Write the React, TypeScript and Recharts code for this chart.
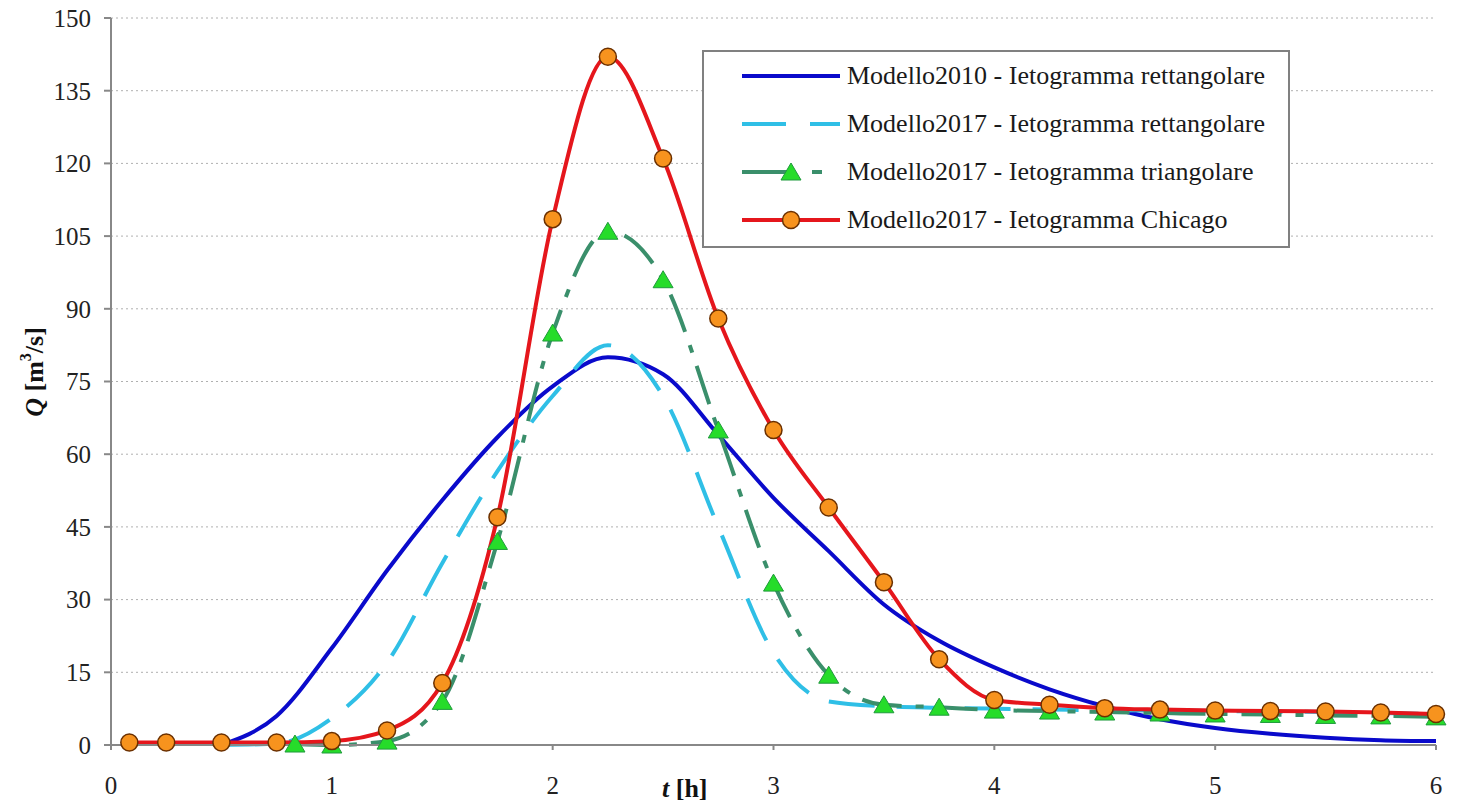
import React from "react";
import { LineChart, Line, XAxis, YAxis, CartesianGrid } from "recharts";

const xTicks = [0, 1, 2, 3, 4, 5, 6];
const yTicks = [0, 15, 30, 45, 60, 75, 90, 105, 120, 135, 150];

// time steps (h)
const rectHours = [
  0.5, 0.75, 1, 1.25, 1.5, 1.75, 2, 2.25, 2.5, 2.75, 3, 3.25, 3.5, 3.75, 4,
  4.25, 4.5, 4.75, 5, 5.25, 5.5, 5.75, 6,
];
const triangHours = [
  0.833, 1, 1.25, 1.5, 1.75, 2, 2.25, 2.5, 2.75, 3, 3.25, 3.5, 3.75, 4, 4.25,
  4.5, 4.75, 5, 5.25, 5.5, 5.75, 6,
];
const chicagoHours = [
  0.083, 0.25, 0.5, 0.75, 1, 1.25, 1.5, 1.75, 2, 2.25, 2.5, 2.75, 3, 3.25, 3.5,
  3.75, 4, 4.25, 4.5, 4.75, 5, 5.25, 5.5, 5.75, 6,
];

// discharge Q (m3/s)
const model2010RectQ = [
  0, 6, 20, 36, 50.5, 63.5, 74, 80, 76.5, 64, 51, 40, 29, 21.5, 16, 11.5, 8,
  5.3, 3.5, 2.3, 1.5, 1, 0.8,
];
const model2017RectQ = [
  0, 0.3, 5.5, 17, 37.5, 56.5, 72, 82.5, 72, 45, 19, 9, 8, 7.7, 7.5, 7.3, 7.2,
  7.1, 7, 6.9, 6.8, 6.6, 6.4,
];
const model2017TriangQ = [
  0.2, 0, 0.8, 9, 42, 85, 106, 96, 65, 33.4, 14.4, 8.3, 7.8, 7.2, 7, 6.8, 6.6,
  6.4, 6.3, 6.1, 6, 5.8,
];
const model2017ChicagoQ = [
  0.5, 0.5, 0.5, 0.5, 0.8, 3, 12.8, 47, 108.5, 142, 121, 88, 65, 49, 33.6, 17.7,
  9.3, 8.3, 7.6, 7.3, 7.1, 7, 6.9, 6.7, 6.4,
];

const BLUE = "#0a0acb";
const LIGHT_BLUE = "#2fbfe6";
const GREEN_LINE = "#3a8f6b";
const GREEN_MARK = "#26dc2a";
const RED = "#e5161c";
const ORANGE = "#f7931e";
const FONT = "Liberation Serif";

const zip = (t: number[], q: number[]) => t.map((h, i) => ({ t: h, q: q[i] }));

const renderCircle = (p: any) => (
  <circle
    key={`c${p.index}`}
    cx={p.cx}
    cy={p.cy}
    r={8.5}
    fill={ORANGE}
    stroke="#6b3000"
    strokeWidth={1.5}
  />
);

const renderTriangle = (p: any) => (
  <polygon
    key={`t${p.index}`}
    points={`${p.cx - 10},${p.cy + 8} ${p.cx + 10},${p.cy + 8} ${p.cx},${p.cy - 9}`}
    fill={GREEN_MARK}
    stroke="#1f9a3c"
    strokeWidth={1}
  />
);

const legendRows = [
  { key: "m2010", label: "Modello2010 - Ietogramma rettangolare" },
  { key: "m2017r", label: "Modello2017 - Ietogramma rettangolare" },
  { key: "m2017t", label: "Modello2017 - Ietogramma triangolare" },
  { key: "m2017c", label: "Modello2017 - Ietogramma Chicago" },
];

function LegendIcon({ kind }: { kind: string }) {
  return (
    <svg width={100} height={24} style={{ display: "block" }}>
      {kind === "m2010" && (
        <line x1={0} y1={12} x2={98} y2={12} stroke={BLUE} strokeWidth={4} />
      )}
      {kind === "m2017r" && (
        <line
          x1={0}
          y1={12}
          x2={98}
          y2={12}
          stroke={LIGHT_BLUE}
          strokeWidth={4}
          strokeDasharray="44 24"
        />
      )}
      {kind === "m2017t" && (
        <g>
          <line x1={0} y1={12} x2={46} y2={12} stroke={GREEN_LINE} strokeWidth={4} />
          <line x1={70} y1={12} x2={80} y2={12} stroke={GREEN_LINE} strokeWidth={4} />
          {renderTriangle({ cx: 49, cy: 12, index: 0 })}
        </g>
      )}
      {kind === "m2017c" && (
        <g>
          <line x1={0} y1={12} x2={98} y2={12} stroke={RED} strokeWidth={4} />
          {renderCircle({ cx: 49, cy: 12, index: 0 })}
        </g>
      )}
    </svg>
  );
}

export default function App() {
  return (
    <div
      style={{
        position: "absolute",
        left: 0,
        top: 0,
        width: 1457,
        height: 809,
        background: "#fff",
        fontFamily: FONT,
      }}
    >
      <LineChart
        width={1457}
        height={809}
        margin={{ top: 18, right: 21, bottom: 14, left: 51 }}
        style={{ fontFamily: FONT }}
      >
        <CartesianGrid
          vertical={false}
          stroke="#b0b0b0"
          strokeDasharray="2 3"
        />
        <XAxis
          dataKey="t"
          type="number"
          domain={[0, 6]}
          ticks={xTicks}
          allowDuplicatedCategory={false}
          height={50}
          stroke="#888"
          strokeWidth={2}
          tickSize={5}
          tickMargin={26}
          tick={{ fontSize: 25, fill: "#222", fontFamily: FONT }}
          label={{
            content: () => (
              <text
                x={662}
                y={797}
                fontFamily={FONT}
                fontSize={26}
                fontWeight="bold"
                fill="#111"
              >
                <tspan fontStyle="italic">t</tspan>
                <tspan> [h]</tspan>
              </text>
            ),
          }}
        />
        <YAxis
          type="number"
          domain={[0, 150]}
          ticks={yTicks}
          width={60}
          stroke="#888"
          strokeWidth={2}
          tickSize={7}
          tickMargin={13}
          tick={{ fontSize: 25, fill: "#222", fontFamily: FONT }}
          label={{
            content: () => (
              <text
                x={34}
                y={372}
                transform="rotate(-90 34 372)"
                textAnchor="middle"
                dominantBaseline="central"
                fontFamily={FONT}
                fontSize={26}
                fontWeight="bold"
                fill="#111"
              >
                <tspan fontStyle="italic">Q</tspan>
                <tspan> [m</tspan>
                <tspan dy={-9} fontSize={16}>3</tspan>
                <tspan dy={9}>/s]</tspan>
              </text>
            ),
          }}
        />
        <Line
          data={zip(rectHours, model2010RectQ)}
          dataKey="q"
          type="monotone"
          stroke={BLUE}
          strokeWidth={4}
          dot={false}
          isAnimationActive={false}
        />
        <Line
          data={zip(rectHours, model2017RectQ)}
          dataKey="q"
          type="monotone"
          stroke={LIGHT_BLUE}
          strokeWidth={4}
          strokeDasharray="46 22"
          dot={false}
          isAnimationActive={false}
        />
        <Line
          data={zip(triangHours, model2017TriangQ)}
          dataKey="q"
          type="monotone"
          stroke={GREEN_LINE}
          strokeWidth={4}
          strokeDasharray="40 14 8 14"
          dot={renderTriangle}
          isAnimationActive={false}
        />
        <Line
          data={zip(chicagoHours, model2017ChicagoQ)}
          dataKey="q"
          type="monotone"
          stroke={RED}
          strokeWidth={4}
          dot={renderCircle}
          isAnimationActive={false}
        />
      </LineChart>

      <div
        style={{
          position: "absolute",
          left: 702,
          top: 50,
          width: 588,
          height: 198,
          border: "2px solid #808080",
          background: "#fff",
          boxSizing: "border-box",
        }}
      >
        {legendRows.map((r) => (
          <div
            key={r.key}
            style={{
              display: "flex",
              alignItems: "center",
              height: 48,
              paddingLeft: 38,
            }}
          >
            <LegendIcon kind={r.key} />
            <span
              style={{
                marginLeft: 5,
                fontSize: 26,
                color: "#1a1a1a",
                whiteSpace: "nowrap",
              }}
            >
              {r.label}
            </span>
          </div>
        ))}
      </div>
    </div>
  );
}
